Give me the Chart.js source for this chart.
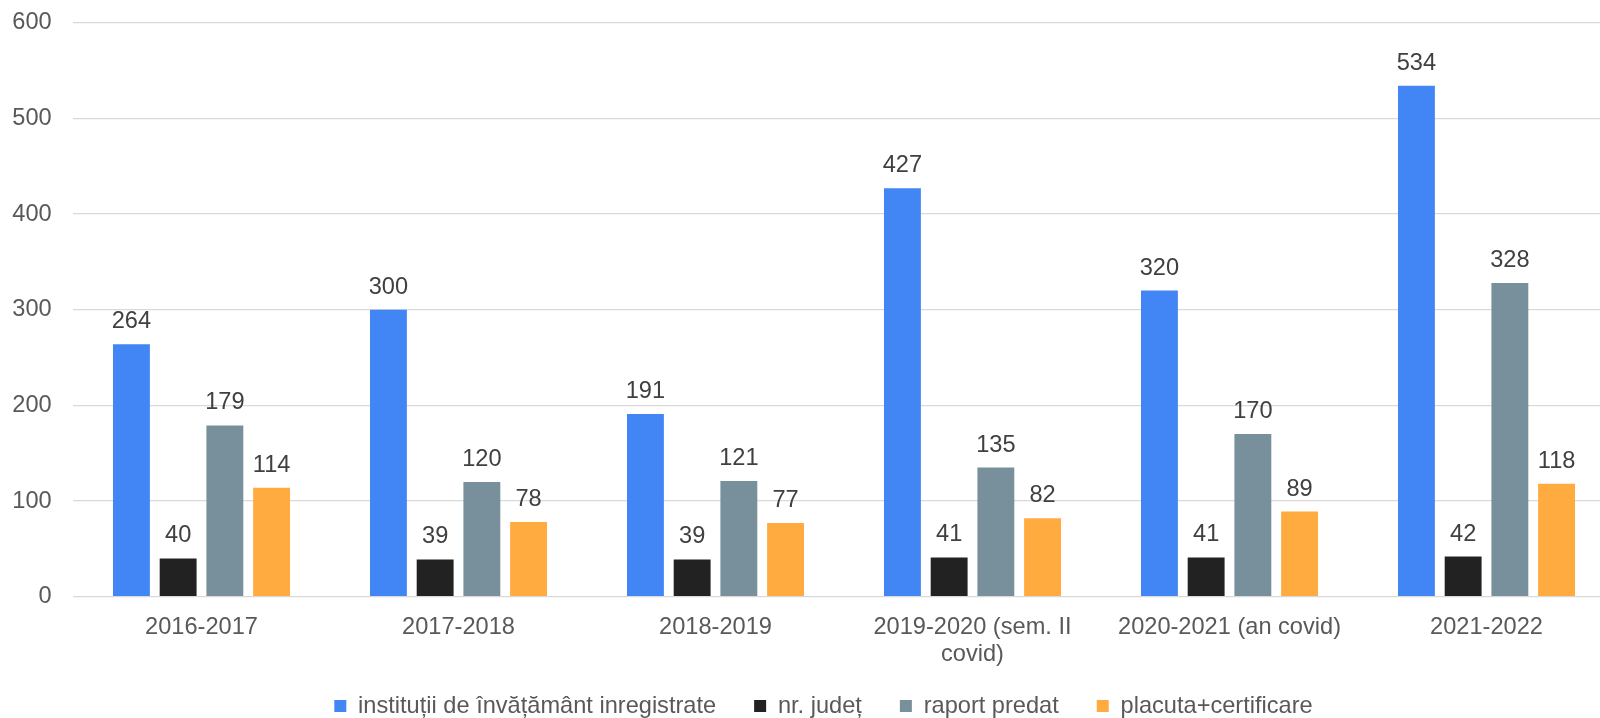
<!DOCTYPE html>
<html><head><meta charset="utf-8">
<script src="https://cdn.jsdelivr.net/npm/chart.js@4.4.1/dist/chart.umd.min.js"></script>
<style>
html,body{margin:0;padding:0;overflow:hidden;background:#fff;width:1600px;height:718px}
#wrap{position:absolute;left:0;top:0;width:1647px;height:718px}
</style></head>
<body><div id="wrap"><canvas id="c" width="1647" height="718"></canvas></div>
<script>
const categories = ['2016-2017', '2017-2018', '2018-2019', ['2019-2020 (sem. II', 'covid)'], '2020-2021 (an covid)', '2021-2022'];
const seriesNames = ['instituții de învățământ inregistrate', 'nr. județ', 'raport predat', 'placuta+certificare'];
const institutii = [264, 300, 191, 427, 320, 534];
const judet = [40, 39, 39, 41, 41, 42];
const raport = [179, 120, 121, 135, 170, 328];
const placuta = [114, 78, 77, 82, 89, 118];
const yMin = 0, yMax = 600, yStep = 100;

const FONT = "'Liberation Sans', Arial, sans-serif";
const FS = 23.6;
const colors = ['#4285F4', '#222222', '#78909C', '#FFAB40'];
const seriesData = [institutii, judet, raport, placuta];

const valueLabels = {
  id: 'valueLabels',
  afterLayout(chart) {
    // let multi-line category labels extend below the axis box
    chart.scales.x._computeLabelArea = () => undefined;
  },
  afterDatasetsDraw(chart) {
    const ctx = chart.ctx;
    ctx.save();
    ctx.font = FS + 'px ' + FONT;
    ctx.fillStyle = '#404040';
    ctx.textAlign = 'center';
    ctx.textBaseline = 'alphabetic';
    chart.data.datasets.forEach((ds, i) => {
      const meta = chart.getDatasetMeta(i);
      meta.data.forEach((el, j) => {
        ctx.fillText(String(ds.data[j]), el.x, el.y - 16);
      });
    });
    ctx.restore();
  }
};

new Chart(document.getElementById('c'), {
  type: 'bar',
  data: {
    labels: categories,
    datasets: seriesNames.map((n, i) => ({
      label: n,
      data: seriesData[i],
      backgroundColor: colors[i],
      borderWidth: 0,
      categoryPercentage: 0.727,
      barPercentage: 0.79
    }))
  },
  options: {
    responsive: false,
    animation: false,
    devicePixelRatio: 1,
    layout: { padding: { left: 0, right: 0, top: 22.7, bottom: 0 } },
    plugins: {
      tooltip: { enabled: false },
      legend: {
        position: 'bottom',
        maxHeight: 61.8,
        labels: {
          boxWidth: 12, boxHeight: 12, padding: 38,
          color: '#595959',
          font: { family: FONT, size: FS }
        }
      }
    },
    scales: {
      x: {
        grid: { display: false, drawTicks: false },
        border: { display: false },
        ticks: { color: '#595959', padding: 17.5, maxRotation: 0, autoSkip: false,
                 font: { family: FONT, size: FS, lineHeight: 1.15 } },
        afterFit(scale) { scale.height = 59.5; }
      },
      y: {
        min: yMin, max: yMax,
        grid: { color: '#D9D9D9', lineWidth: 1.3, drawTicks: false },
        border: { display: false },
        ticks: { stepSize: yStep, color: '#595959', padding: 21.3,
                 font: { family: FONT, size: FS } },
        afterFit(scale) { scale.width = 73; scale.paddingTop = 0; scale.paddingBottom = 0; }
      },
      yRight: {
        position: 'right',
        grid: { display: false, drawTicks: false },
        border: { display: false },
        ticks: { display: false },
        afterFit(scale) { scale.width = 32; scale.paddingTop = 0; scale.paddingBottom = 0; }
      }
    }
  },
  plugins: [valueLabels]
});
</script>
</body></html>
